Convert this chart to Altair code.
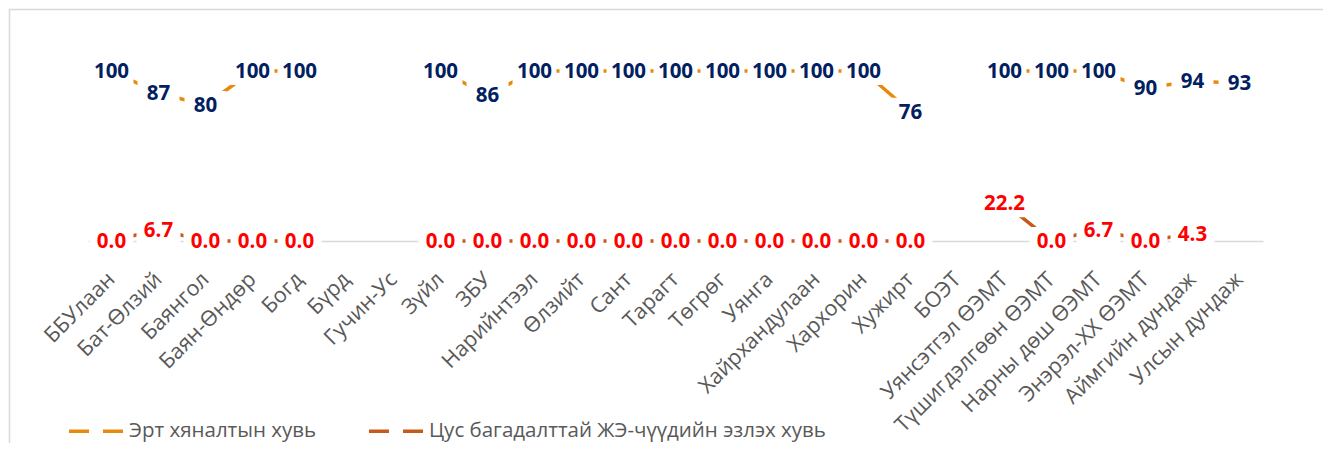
import altair as alt
import pandas as pd

categories = [
    "ББУлаан", "Бат-Өлзий", "Баянгол", "Баян-Өндөр", "Богд", "Бүрд", "Гучин-Ус",
    "Зүйл", "ЗБУ", "Нарийнтээл", "Өлзийт", "Сант", "Тарагт", "Төгрөг", "Уянга",
    "Хайрхандулаан", "Хархорин", "Хужирт", "БОЭТ", "Уянсэтгэл ӨЭМТ",
    "Түшигдэлгөөн ӨЭМТ", "Нарны дөш ӨЭМТ", "Энэрэл-ХХ ӨЭМТ", "Аймгийн дундаж",
    "Улсын дундаж",
]
early_pct = [100, 87, 80, 100, 100, None, None, 100, 86, 100, 100, 100, 100, 100,
             100, 100, 100, 76, None, 100, 100, 100, 90, 94, 93]
anemia_pct = [0.0, 6.7, 0.0, 0.0, 0.0, None, None, 0.0, 0.0, 0.0, 0.0, 0.0, 0.0,
              0.0, 0.0, 0.0, 0.0, 0.0, None, 22.2, 0.0, 6.7, 0.0, 4.3, None]
series_names = ["Эрт хяналтын хувь", "Цус багадалттай ЖЭ-чүүдийн эзлэх хувь"]
line_colors = ["#E8890C", "#C55A1B"]
label_colors = ["#002060", "#FF0000"]

rows = []
for i, c in enumerate(categories):
    rows.append({"cat": c, "series": series_names[0], "value": early_pct[i]})
    rows.append({"cat": c, "series": series_names[1], "value": anemia_pct[i]})
df = pd.DataFrame(rows)

FONT = "Open Sans"
s1 = series_names[0]

base = alt.Chart(df).encode(
    x=alt.X("cat:N", sort=categories, title=None,
            axis=alt.Axis(labelAngle=-45, labelAlign="right", labelBaseline="middle",
                          labelFont=FONT, labelFontSize=21.5, labelColor="#595959",
                          ticks=False, domainColor="#d9d9d9", domainWidth=1.5,
                          labelPadding=35, labelOffset=0, labelOverlap=False,
                          labelLimit=400, grid=False)),
    y=alt.Y("value:Q", scale=alt.Scale(domain=[0, 120], nice=False), axis=None),
)

lines = base.mark_line(strokeWidth=3.5).encode(
    color=alt.Color("series:N",
                    scale=alt.Scale(domain=series_names, range=line_colors),
                    legend=alt.Legend(orient="none", legendX=-21, legendY=365,
                                      direction="horizontal", title=None,
                                      symbolType="stroke", symbolSize=2916,
                                      symbolStrokeWidth=3.5, symbolDash=[20, 14],
                                      labelFont=FONT, labelFontSize=20.5,
                                      labelColor="#595959", columnPadding=45,
                                      labelOffset=4, labelLimit=600, padding=0)),
    detail="series:N",
)

labelled = base.transform_filter("isValid(datum.value)").transform_calculate(
    lbl=f"datum.series == '{s1}' ? format(datum.value, '.0f') : format(datum.value, '.1f')",
    tc=f"datum.series == '{s1}' ? '{label_colors[0]}' : '{label_colors[1]}'",
).transform_calculate(
    hw="(length(datum.lbl) * 2 + 38) / 40"
).transform_calculate(
    shp="'M' + (-datum.hw) + ',-0.7L' + datum.hw + ',-0.7L' + datum.hw + ',0.7L' + (-datum.hw) + ',0.7Z'"
)

bg = labelled.mark_point(filled=True, color="white", opacity=1, size=1600,
                         strokeWidth=0).encode(shape=alt.Shape("shp:N", scale=None))

texts = labelled.mark_text(font=FONT, fontSize=20.5, fontWeight="bold",
                           align="center", baseline="middle", dy=1).encode(
    text="lbl:N", color=alt.Color("tc:N", scale=None))

border = alt.Chart(pd.DataFrame({"a": [0]})).mark_rect(
    fill="white", fillOpacity=0, stroke="#d9d9d9", strokeWidth=1.5
).encode(x=alt.value(-78.5), x2=alt.value(1300), y=alt.value(-27.5), y2=alt.value(700))

chart = alt.layer(border, lines, bg, texts).properties(
    width=1175, height=204,
    autosize=alt.AutoSizeParams(type="none"),
    padding={"left": 80, "top": 29, "right": 60, "bottom": 202},
).configure_view(stroke=None)

chart.save("out.html", embed_options={"renderer": "svg", "actions": False})
